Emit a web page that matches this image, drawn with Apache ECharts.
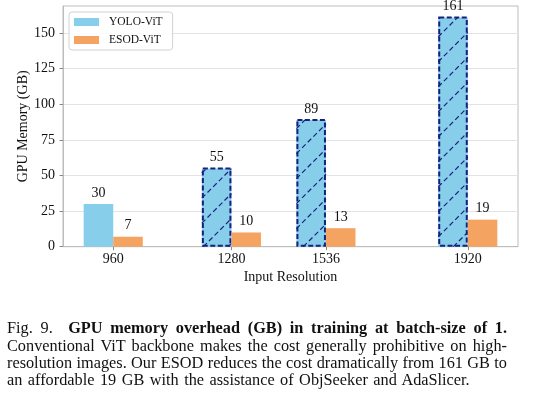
<!DOCTYPE html>
<html>
<head>
<meta charset="utf-8">
<script src="https://cdn.jsdelivr.net/npm/echarts@6/dist/echarts.min.js"></script>
<style>
  html, body { margin: 0; padding: 0; background: #fff; }
  #chart { position: absolute; left: 0; top: 0; width: 534px; height: 393px; }
  .cap { position: absolute; left: 7px; width: 500px; font-family: 'Liberation Serif', 'Times New Roman', serif;
         font-size: 16.3px; line-height: 17px; color: #111; white-space: nowrap; }
  .just { text-align: justify; text-align-last: justify; }
</style>
</head>
<body>
<div id="chart"></div>
<div class="cap just" style="top:319px">Fig. 9.&nbsp; <b>GPU memory overhead (GB) in training at batch-size of 1.</b></div>
<div class="cap just" style="top:336.5px">Conventional ViT backbone makes the cost generally prohibitive on high-</div>
<div class="cap just" style="top:353.5px">resolution images. Our ESOD reduces the cost dramatically from 161 GB to</div>
<div class="cap" style="top:371px; word-spacing:1.4px">an affordable 19 GB with the assistance of ObjSeeker and AdaSlicer.</div>
<script>
// ---- data ----
const resolutions = [960, 1280, 1536, 1920];
const seriesNames = ['YOLO-ViT', 'ESOD-ViT'];
const yoloMemory = [30, 55, 89, 161];
const esodMemory = [7, 10, 13, 19];
const yoloHatched = [false, true, true, true];
const xTicks = [960, 1280, 1536, 1920];
const yTicks = [0, 25, 50, 75, 100, 125, 150];

// ---- style ----
const FONT = 'Liberation Serif';
const BAR_W = 80;          // bar width in data units
const BLUE = '#87ceeb';
const ORANGE = '#f4a460';
const EDGE = '#18207c';
const HATCH_STEP = 25;

const chart = echarts.init(document.getElementById('chart'), null, { renderer: 'canvas' });

function barRender(values, side, hatchFlags, color) {
  return function (params, api) {
    const x = api.value(0), y = api.value(1);
    const x0 = side < 0 ? x - BAR_W : x;
    const pTop = api.coord([x0, y]);
    const pBot = api.coord([x0 + BAR_W, 0]);
    const xL = pTop[0], xR = pBot[0], yT = pTop[1], yB = pBot[1];
    const children = [{
      type: 'rect',
      shape: { x: xL, y: yT, width: xR - xL, height: yB - yT },
      style: { fill: color, stroke: null }
    }];
    const hatched = hatchFlags && hatchFlags[params.dataIndex];
    if (hatched) {
      const kStart = Math.ceil((xL + yT) / HATCH_STEP) * HATCH_STEP;
      for (let k = kStart; k <= xR + yB; k += HATCH_STEP) {
        const xa = Math.max(xL, k - yB), xb = Math.min(xR, k - yT);
        if (xb - xa < 0.5) continue;
        children.push({
          type: 'line',
          shape: { x1: xa, y1: k - xa, x2: xb, y2: k - xb },
          style: { stroke: EDGE, lineWidth: 1.2, lineDash: [5, 3] }
        });
      }
      children.push({
        type: 'rect',
        shape: { x: xL + 1, y: yT, width: xR - xL - 2, height: yB - yT - 1 },
        style: { fill: null, stroke: EDGE, lineWidth: 2, lineDash: [5, 2.5] }
      });
    }
    children.push({
      type: 'text',
      x: (xL + xR) / 2, y: yT - 11,
      style: { text: String(y), fill: '#111', font: '14px ' + FONT, align: 'center', verticalAlign: 'middle' }
    });
    return { type: 'group', children };
  };
}

const option = {
  animation: false,
  textStyle: { fontFamily: FONT },
  grid: { left: 63, right: 16, top: 6, bottom: 146.3, show: true, borderColor: '#bdbdbd', borderWidth: 1 },
  legend: {
    data: [
      { name: seriesNames[0], itemStyle: { color: BLUE } },
      { name: seriesNames[1], itemStyle: { color: ORANGE } }
    ],
    orient: 'vertical', left: 69, top: 12,
    icon: 'rect', itemWidth: 25, itemHeight: 8, itemGap: 6,
    padding: [4, 10, 4, 5],
    backgroundColor: 'rgba(255,255,255,0.85)',
    borderColor: '#d2d2d2', borderWidth: 1, borderRadius: 3,
    textStyle: { fontFamily: FONT, fontSize: 11.5, color: '#111', lineHeight: 12, padding: [0, 0, 0, 5] }
  },
  xAxis: {
    type: 'value', min: 824, max: 2056,
    name: 'Input Resolution', nameLocation: 'middle', nameGap: 24, nameMoveOverlap: false,
    nameTextStyle: { fontFamily: FONT, fontSize: 14, color: '#111' },
    axisLine: { show: true, lineStyle: { color: '#bdbdbd', width: 1 } },
    axisTick: { show: true, length: 3.5, customValues: xTicks, lineStyle: { color: '#888' } },
    axisLabel: { customValues: xTicks, margin: 6, fontFamily: FONT, fontSize: 14, color: '#111',
                 formatter: v => String(v) },
    splitLine: { show: false }
  },
  yAxis: {
    type: 'value', min: 0, max: 169.05, interval: 25,
    name: 'GPU Memory (GB)', nameLocation: 'middle', nameGap: 33, nameRotate: 90, nameMoveOverlap: false,
    nameTextStyle: { fontFamily: FONT, fontSize: 14, color: '#111' },
    axisLine: { show: true, lineStyle: { color: '#bdbdbd', width: 1 } },
    axisTick: { show: true, length: 3.5, customValues: yTicks, lineStyle: { color: '#888' } },
    axisLabel: { customValues: yTicks, margin: 8, fontFamily: FONT, fontSize: 14, color: '#111',
                 formatter: v => String(v) },
    splitLine: { show: true, lineStyle: { color: '#e3e3e3', width: 1 } }
  },
  series: [
    {
      name: seriesNames[0], type: 'custom',
      itemStyle: { color: BLUE },
      data: resolutions.map((r, i) => [r, yoloMemory[i]]),
      renderItem: barRender(yoloMemory, -1, yoloHatched, BLUE),
      encode: { x: 0, y: 1 }
    },
    {
      name: seriesNames[1], type: 'custom',
      itemStyle: { color: ORANGE },
      data: resolutions.map((r, i) => [r, esodMemory[i]]),
      renderItem: barRender(esodMemory, 1, null, ORANGE),
      encode: { x: 0, y: 1 }
    }
  ]
};
chart.setOption(option);
</script>
</body>
</html>
